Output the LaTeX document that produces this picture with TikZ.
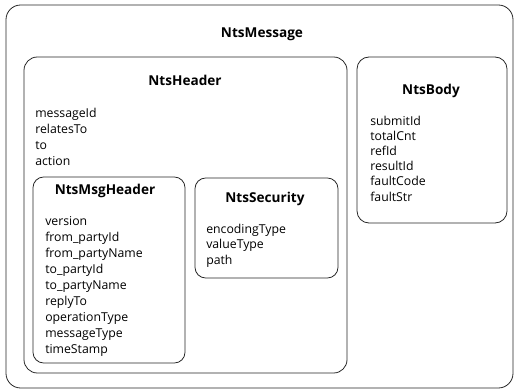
\documentclass[tikz,border=0pt]{standalone}
\usepackage{fontspec}
\setmainfont{Open Sans}
\usetikzlibrary{positioning}

\tikzset{
  box/.style = {draw=black!85, line width=0.6pt, rounded corners=#1, inner sep=0pt},
  box/.default = 9pt,
  title/.style = {font=\fontsize{10.2}{12}\selectfont\bfseries, inner sep=0pt},
  field/.style = {font=\fontsize{9.2}{12}\selectfont, align=left, anchor=north west, inner sep=0pt},
}

\begin{document}
\begin{tikzpicture}[x=0.75pt, y=-0.75pt]
  \useasboundingbox (0,0) rectangle (516,391);
  % containers
  \node[box=11pt, minimum width=380.25pt, minimum height=287.25pt] (msg) at (259.5,196.5) {};
  \node[box=10pt, minimum width=242.25pt, minimum height=237pt] (hdr) at (185.5,215) {};
  \node[box=9pt, minimum width=112.5pt, minimum height=124.5pt] (body) at (432,140) {};
  \node[box=8pt, minimum width=114pt, minimum height=139.5pt] (msghdr) at (109,270) {};
  \node[box=8pt, minimum width=107.25pt, minimum height=75pt] (sec) at (266.5,228) {};
  % titles
  \node[title] (msg-title) at (262,34) {NtsMessage};
  \node[title] (hdr-title) at (185,80) {NtsHeader};
  \node[title] (body-title) at (431,91) {NtsBody};
  \node[title] (msghdr-title) at (105,191) {NtsMsgHeader};
  \node[title] (sec-title) at (265,199) {NtsSecurity};
  % fields
  \node[field] (hdr-fields) at (35,107.5) {messageId\\relatesTo\\to\\action};
  \node[field] (msghdr-fields) at (45,216.5) {version\\from\_partyId\\from\_partyName\\to\_partyId\\to\_partyName\\replyTo\\operationType\\messageType\\timeStamp};
  \node[field, font=\fontsize{9.2}{11.6}\selectfont] (sec-fields) at (206,223.5) {encodingType\\valueType\\path};
  \node[field, font=\fontsize{9.2}{11.4}\selectfont] (body-fields) at (370,115.5) {submitId\\totalCnt\\refId\\resultId\\faultCode\\faultStr};
\end{tikzpicture}
\end{document}
